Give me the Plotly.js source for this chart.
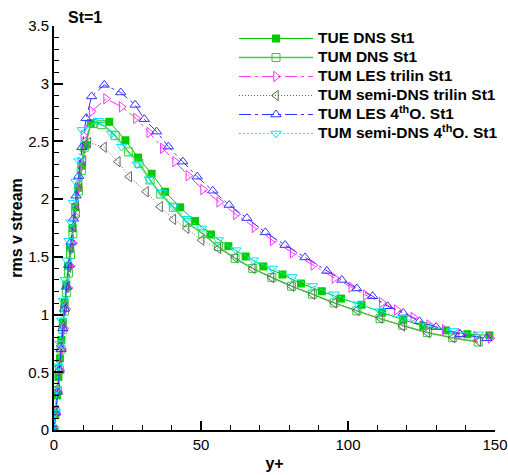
<!DOCTYPE html>
<html>
<head>
<meta charset="utf-8">
<script src="https://cdn.plot.ly/plotly-3.0.1.min.js"></script>
<style>html,body{margin:0;padding:0;background:#fff;}#chart{width:508px;height:475px;}</style>
</head>
<body>
<div id="chart"></div>
<script>
// TUE DNS St1
const tueDnsX = [0, 0.5, 1.0, 1.5, 2.0, 2.5, 3.0, 3.6, 4.2, 4.8, 5.5, 6.3, 7.2, 8.2, 9.4, 10.8, 12.5, 18.8, 24.3, 28.6, 33.2, 37.8, 42.9, 48.0, 53.4, 59.3, 65.2, 71.2, 77.7, 84.0, 91.1, 97.6, 104.6, 111.6, 118.8, 125.6, 133.3, 140.6, 148.1];
const tueDnsY = [0, 0.14, 0.3, 0.46, 0.62, 0.78, 0.93, 1.1, 1.26, 1.42, 1.58, 1.75, 1.93, 2.1, 2.29, 2.47, 2.66, 2.67, 2.51, 2.36, 2.22, 2.064, 1.929, 1.81, 1.694, 1.593, 1.503, 1.417, 1.347, 1.269, 1.202, 1.139, 1.085, 1.017, 0.955, 0.90, 0.863, 0.83, 0.82];
// TUM DNS St1
const tumDnsX = [0, 0.6, 1.2, 1.8, 2.4, 3.0, 3.6, 4.2, 4.9, 5.6, 6.4, 7.3, 8.3, 9.3, 10.3, 13.2, 16.2, 20.8, 25.3, 28.9, 32.7, 36.3, 40.6, 45.3, 50.6, 55.9, 61.6, 67.6, 74.1, 80.8, 87.9, 95.3, 103.0, 110.9, 118.6, 127.0, 135.6, 144.3];
const tumDnsY = [0, 0.16, 0.34, 0.52, 0.7, 0.87, 1.03, 1.19, 1.36, 1.52, 1.7, 1.88, 2.07, 2.25, 2.45, 2.655, 2.645, 2.55, 2.41, 2.31, 2.166, 2.044, 1.93, 1.80, 1.70, 1.588, 1.487, 1.40, 1.322, 1.246, 1.177, 1.101, 1.032, 0.965, 0.907, 0.844, 0.80, 0.762];
// TUM LES trilin St1
const lesTriX = [0, 0.7, 1.4, 2.1, 2.8, 3.5, 4.2, 4.9, 5.7, 6.5, 7.3, 8.1, 9.0, 10.0, 12.8, 17.7, 23.0, 27.9, 32.4, 37.0, 41.2, 45.7, 50.7, 56.2, 61.9, 68.2, 74.4, 81.2, 88.2, 95.4, 101.1, 106.1, 111.5, 116.6, 122.2, 127.6, 132.9, 138.3, 143.7, 148.5];
const lesTriY = [0, 0.15, 0.33, 0.52, 0.7, 0.88, 1.05, 1.23, 1.42, 1.62, 1.85, 2.08, 2.32, 2.55, 2.76, 2.87, 2.80, 2.70, 2.577, 2.44, 2.325, 2.203, 2.083, 1.975, 1.868, 1.755, 1.642, 1.535, 1.428, 1.316, 1.237, 1.168, 1.104, 1.04, 0.975, 0.91, 0.87, 0.835, 0.808, 0.795];
// TUM semi-DNS trilin St1
const semiTriX = [0, 0.5, 1.1, 1.7, 2.3, 2.9, 3.5, 4.2, 4.9, 5.7, 6.6, 7.6, 8.7, 10.0, 11.7, 17.0, 21.7, 25.6, 31.3, 36.1, 40.6, 45.1, 50.2, 55.9, 61.6, 67.6, 74.0, 80.8, 87.9, 95.3, 103.0, 110.9, 118.5, 127.0, 135.6, 144.3];
const semiTriY = [0, 0.17, 0.36, 0.55, 0.73, 0.9, 1.07, 1.24, 1.41, 1.58, 1.76, 1.95, 2.14, 2.33, 2.49, 2.45, 2.325, 2.195, 2.064, 1.934, 1.825, 1.747, 1.645, 1.573, 1.495, 1.40, 1.321, 1.246, 1.176, 1.101, 1.037, 0.97, 0.901, 0.844, 0.80, 0.771];
// TUM LES 4thO. St1
const les4X = [0, 0.6, 1.2, 1.8, 2.4, 3.0, 3.6, 4.3, 5.0, 5.8, 6.6, 7.5, 8.4, 9.5, 10.9, 12.8, 17.1, 22.7, 27.6, 30.7, 34.9, 38.9, 43.8, 48.7, 54.0, 59.6, 65.6, 71.9, 78.6, 85.4, 92.8, 97.9, 103.0, 108.4, 113.5, 118.8, 124.3, 130.0, 138.1, 147.2];
const les4Y = [0, 0.15, 0.33, 0.52, 0.7, 0.88, 1.05, 1.24, 1.43, 1.63, 1.83, 2.03, 2.2, 2.45, 2.7, 2.89, 2.99, 2.924, 2.817, 2.693, 2.585, 2.455, 2.325, 2.195, 2.073, 1.949, 1.836, 1.712, 1.602, 1.495, 1.378, 1.30, 1.226, 1.159, 1.072, 1.014, 0.942, 0.892, 0.829, 0.795];
// TUM semi-DNS 4thO. St1
const semi4X = [0, 0.4, 0.9, 1.4, 2.0, 2.6, 3.2, 3.8, 4.4, 5.1, 5.8, 6.6, 7.5, 8.5, 9.6, 15.1, 19.6, 23.0, 28.3, 32.4, 36.6, 40.6, 45.1, 50.2, 55.9, 61.9, 67.8, 74.3, 81.0, 87.9, 95.3, 103.5, 110.9, 118.8, 126.8, 135.6, 144.3];
const semi4Y = [0, 0.15, 0.35, 0.55, 0.75, 0.95, 1.12, 1.3, 1.47, 1.64, 1.8, 1.97, 2.15, 2.33, 2.6, 2.68, 2.57, 2.455, 2.302, 2.172, 2.056, 1.94, 1.83, 1.747, 1.645, 1.558, 1.471, 1.399, 1.326, 1.248, 1.176, 1.089, 1.031, 0.971, 0.905, 0.858, 0.829];

const names = ['TUE DNS St1', 'TUM DNS St1', 'TUM LES trilin St1', 'TUM semi-DNS trilin St1', 'TUM LES 4<sup>th</sup>O. St1', 'TUM semi-DNS 4<sup>th</sup>O. St1'];
const big = s => '<span style="font-size:15.5px">' + s + '</span>';

const traces = [
  {x: tueDnsX, y: tueDnsY, name: big(names[0]), mode: 'lines+markers',
   line: {color: '#00cc00', width: 1}, marker: {symbol: 'square', size: 8, color: '#00cc00'}},
  {x: tumDnsX, y: tumDnsY, name: big(names[1]), mode: 'lines+markers',
   line: {color: '#44cc44', width: 1.5, shape: 'spline'}, marker: {symbol: 'square-open', size: 8, color: '#33cc33', line: {width: 1}}},
  {x: lesTriX, y: lesTriY, name: big(names[2]), mode: 'lines+markers',
   line: {color: '#ff33ff', width: 1, dash: '12px,4px,3px,4px'}, marker: {symbol: 'triangle-right-open', size: 9, color: '#ff33ff', line: {width: 1}}},
  {x: semiTriX, y: semiTriY, name: big(names[3]), mode: 'lines+markers',
   line: {color: '#666666', width: 1, dash: '1px,2px'}, marker: {symbol: 'triangle-left-open', size: 9, color: '#666666', line: {width: 1}}},
  {x: les4X, y: les4Y, name: big(names[4]), mode: 'lines+markers',
   line: {color: '#3333ff', width: 1, dash: '12px,4px,3px,4px'}, marker: {symbol: 'triangle-up-open', size: 9, color: '#3333ff', line: {width: 1}}},
  {x: semi4X, y: semi4Y, name: big(names[5]), mode: 'lines+markers',
   line: {color: '#00ffff', width: 1, dash: '2px,2px'}, marker: {symbol: 'triangle-down-open', size: 9, color: '#00e5ff', line: {width: 1}}}
];

const FONT = 'Liberation Sans, Arial, sans-serif';
const layout = {
  width: 508, height: 475,
  margin: {l: 54, r: 13, t: 26, b: 45, pad: 0, autoexpand: false},
  paper_bgcolor: '#ffffff', plot_bgcolor: '#ffffff',
  font: {family: FONT, size: 13, color: '#000'},
  title: {text: '<b>St=1</b>', font: {family: FONT, size: 16, color: '#000'},
          x: 68/508, xref: 'container', xanchor: 'left', y: 1 - 17/475, yref: 'container', yanchor: 'middle'},
  showlegend: true,
  legend: {x: (234 - 54) / 441, y: (430 - 24) / 404, xref: 'paper', yref: 'paper', xanchor: 'left', yanchor: 'top',
           bgcolor: 'rgba(0,0,0,0)', borderwidth: 0, itemwidth: 74, tracegroupgap: 0,
           font: {family: FONT, size: 12, color: '#000', weight: 'bold'}},
  xaxis: {range: [0, 150], showgrid: false, zeroline: false, showline: true, linecolor: '#000', linewidth: 2,
          ticks: 'inside', ticklen: 9, tickwidth: 2, tickcolor: '#000', dtick: 50, tick0: 0,
          minor: {dtick: 10, ticks: 'inside', ticklen: 5, tickwidth: 1, tickcolor: '#000', showgrid: false},
          tickfont: {family: FONT, size: 15}, mirror: false, automargin: false,
          title: {text: '<b>y+</b>', font: {family: FONT, size: 16}, standoff: 6}},
  yaxis: {range: [0, 3.5], showgrid: false, zeroline: false, showline: true, linecolor: '#000', linewidth: 2,
          ticks: 'inside', ticklen: 9, tickwidth: 2, tickcolor: '#000', dtick: 0.5, tick0: 0,
          minor: {dtick: 0.1, ticks: 'inside', ticklen: 5, tickwidth: 1, tickcolor: '#000', showgrid: false},
          tickfont: {family: FONT, size: 15}, mirror: false, automargin: false,
          title: {text: '<b>rms v stream</b>', font: {family: FONT, size: 16}, standoff: 2}}
};

Plotly.newPlot('chart', traces, layout, {displayModeBar: false, staticPlot: true});
</script>
</body>
</html>
